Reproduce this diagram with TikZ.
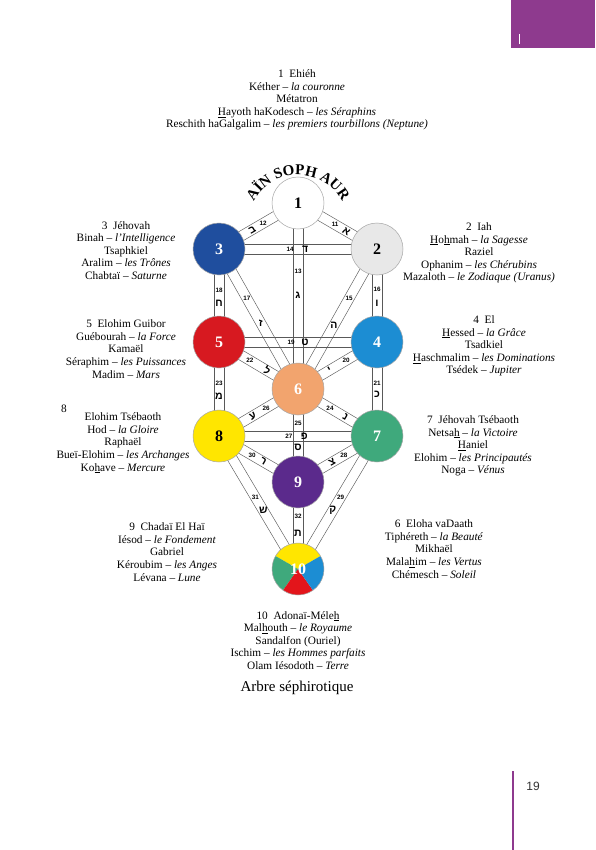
\documentclass[tikz,border=0pt]{standalone}
\usepackage{fontspec}
\setmainfont{Liberation Serif}
\newfontfamily\hebfont{Liberation Sans}
\newfontfamily\numfont{Liberation Sans}
\usetikzlibrary{calc,decorations.text}
\definecolor{cthree}{HTML}{1F4E9E}
\definecolor{cfive}{HTML}{D71920}
\definecolor{cfour}{HTML}{1C8DD3}
\definecolor{csix}{HTML}{F2A46E}
\definecolor{ceight}{HTML}{FFE600}
\definecolor{cseven}{HTML}{3FA97C}
\definecolor{cnine}{HTML}{5B2A8C}
\definecolor{ctwo}{HTML}{E8E8E8}
\definecolor{cred}{HTML}{E3151B}
\definecolor{tabpurple}{HTML}{8E3A8E}
\newcommand\ulh[1]{\underline{#1}}
\newcommand\ainfont{\bfseries\fontsize{15}{15}\selectfont}
\newcommand\chan[2]{%
  \draw[chanline] ($(#1)!5pt!90:(#2)$) -- ($(#2)!5pt!-90:(#1)$);
  \draw[chanline] ($(#1)!5pt!-90:(#2)$) -- ($(#2)!5pt!90:(#1)$);}
\tikzset{
  sef/.style={circle, minimum size=52pt, inner sep=0pt, draw=gray!70, line width=0.5pt,
    font=\bfseries\fontsize{16}{16}\selectfont},
  chanline/.style={draw=gray!70!black, line width=0.45pt},
  pnum/.style={font=\numfont\bfseries\fontsize{6.3}{6.3}\selectfont, inner sep=0pt},
  pheb/.style={font=\hebfont\bfseries\fontsize{10.5}{10.5}\selectfont, inner sep=0pt},
  txt/.style={align=center, font=\fontsize{11.3}{12.6}\selectfont, inner sep=0pt},
}
\begin{document}
\begin{tikzpicture}[x=1pt,y=-1pt]
\useasboundingbox (0,0) rectangle (595,850);
\fill[white] (0,0) rectangle (595,850);
% page decorations
\fill[tabpurple] (511,0) rectangle (595,48);
\draw[white, line width=1pt] (519,34) -- (519,44);
\draw[tabpurple, line width=2pt] (513,771) -- (513,850);
\node[font=\numfont\fontsize{12}{12}\selectfont, text=black!80] (pg) at (533,786) {19};
% sephiroth centres
\coordinate (p1) at (298,203);
\coordinate (p3) at (219,249);
\coordinate (p2) at (377,249);
\coordinate (p5) at (219,342);
\coordinate (p4) at (377,342);
\coordinate (p6) at (298,389);
\coordinate (p8) at (219,436);
\coordinate (p7) at (377,436);
\coordinate (p9) at (298,482);
\coordinate (p10) at (298,569);
% channels
\chan{p1}{p2}\chan{p1}{p3}\chan{p1}{p6}\chan{p3}{p2}\chan{p2}{p6}\chan{p2}{p4}
\chan{p3}{p6}\chan{p3}{p5}\chan{p5}{p4}\chan{p4}{p6}\chan{p4}{p7}\chan{p5}{p6}
\chan{p5}{p8}\chan{p6}{p7}\chan{p6}{p9}\chan{p6}{p8}\chan{p8}{p7}\chan{p7}{p9}
\chan{p7}{p10}\chan{p8}{p9}\chan{p8}{p10}\chan{p9}{p10}
% path labels
\path (p1) -- (p2) node[pnum,pos=0.47] (n11) {11} node[pheb,pos=0.61,sloped] (h11) {א};
\path (p1) -- (p3) node[pnum,pos=0.44] (n12) {12} node[pheb,pos=0.58,sloped] (h12) {ב};
\path (p1) -- (p6) node[pnum,pos=0.365] (n13) {13} node[pheb,pos=0.495] (h13) {ג};
\path (p3) -- (p2) node[pnum,pos=0.45] (n14) {14} node[pheb,pos=0.545] (h14) {ד};
\path (p2) -- (p6) node[pnum,pos=0.354] (n15) {15} node[pheb,pos=0.544] (h15) {ה};
\path (p2) -- (p4) node[pnum,pos=0.43] (n16) {16} node[pheb,pos=0.58] (h16) {ו};
\path (p3) -- (p6) node[pnum,pos=0.354] (n17) {17} node[pheb,pos=0.53] (h17) {ז};
\path (p3) -- (p5) node[pnum,pos=0.44] (n18) {18} node[pheb,pos=0.58] (h18) {ח};
\path (p5) -- (p4) node[pnum,pos=0.456] (n19) {19} node[pheb,pos=0.544] (h19) {ט};
\path (p4) -- (p6) node[pnum,pos=0.39] (n20) {20} node[pheb,pos=0.6,sloped] (h20) {י};
\path (p4) -- (p7) node[pnum,pos=0.44] (n21) {21} node[pheb,pos=0.56] (h21) {כ};
\path (p5) -- (p6) node[pnum,pos=0.39] (n22) {22} node[pheb,pos=0.61,sloped] (h22) {ל};
\path (p5) -- (p8) node[pnum,pos=0.44] (n23) {23} node[pheb,pos=0.58] (h23) {מ};
\path (p6) -- (p7) node[pnum,pos=0.405] (n24) {24} node[pheb,pos=0.6,sloped] (h24) {נ};
\path (p6) -- (p9) node[pnum,pos=0.37] (n25) {25} node[pheb,pos=0.63] (h25) {ס};
\path (p6) -- (p8) node[pnum,pos=0.405] (n26) {26} node[pheb,pos=0.57,sloped] (h26) {ע};
\path (p8) -- (p7) node[pnum,pos=0.443] (n27) {27} node[pheb,pos=0.54] (h27) {פ};
\path (p7) -- (p9) node[pnum,pos=0.42] (n28) {28} node[pheb,pos=0.57,sloped] (h28) {צ};
\path (p7) -- (p10) node[pnum,pos=0.46] (n29) {29} node[pheb,pos=0.56] (h29) {ק};
\path (p8) -- (p9) node[pnum,pos=0.42] (n30) {30} node[pheb,pos=0.56,sloped] (h30) {ר};
\path (p8) -- (p10) node[pnum,pos=0.46] (n31) {31} node[pheb,pos=0.56] (h31) {ש};
\path (p9) -- (p10) node[pnum,pos=0.4] (n32) {32} node[pheb,pos=0.59] (h32) {ת};
% sephiroth
\node[sef, fill=white] (s1) at (p1) {1};
\node[sef, fill=ctwo] (s2) at (p2) {2};
\node[sef, fill=cthree, text=white] (s3) at (p3) {3};
\node[sef, fill=cfive, text=white] (s5) at (p5) {5};
\node[sef, fill=cfour, text=white] (s4) at (p4) {4};
\node[sef, fill=csix, text=white] (s6) at (p6) {6};
\node[sef, fill=ceight] (s8) at (p8) {8};
\node[sef, fill=cseven, text=white] (s7) at (p7) {7};
\node[sef, fill=cnine, text=white] (s9) at (p9) {9};
\fill[ceight] (p10) -- ++(-30:26) arc[start angle=-30, end angle=-150, radius=26] -- cycle;
\fill[cseven] (p10) -- ++(-150:26) arc[start angle=-150, end angle=-235, radius=26] -- cycle;
\fill[cred] (p10) -- ++(-235:26) arc[start angle=-235, end angle=-305, radius=26] -- cycle;
\fill[cfour] (p10) -- ++(-305:26) arc[start angle=-305, end angle=-390, radius=26] -- cycle;
\node[sef, text=white] (s10) at (p10) {10};
% Ain Soph Aur
\path[decorate, decoration={text along path, text={|\ainfont|AÏN SOPH AUR}, text align=center}]
  ($(p1)+(0,22)$) ++(-155:50) arc[start angle=-155, end angle=-25, radius=50];
% texts
\node[txt] (t1) at (297,100) {1\ \ Ehiéh\\Kéther – \textit{la couronne}\\Métatron\\\ulh{H}ayoth haKodesch – \textit{les Séraphins}\\Reschith haGalgalim – \textit{les premiers tourbillons (Neptune)}};
\node[txt] (t3) at (126,250.5) {3\ \ Jéhovah\\Binah – \textit{l’Intelligence}\\Tsaphkiel\\Aralim – \textit{les Trônes}\\Chabtaï – \textit{Saturne}};
\node[txt] (t2) at (479,253) {2\ \ Iah\\\ulh{H}o\ulh{h}mah – \textit{la Sagesse}\\Raziel\\Ophanim – \textit{les Chérubins}\\Mazaloth – \textit{le Zodiaque (Uranus)}};
\node[txt] (t5) at (126,349) {5\ \ Elohim Guibor\\Guébourah – \textit{la Force}\\Kamaël\\Séraphim – \textit{les Puissances}\\Madim – \textit{Mars}};
\node[txt] (t4) at (484,346) {4\ \ El\\\ulh{H}essed – \textit{la Grâce}\\Tsadkiel\\\ulh{H}aschmalim – \textit{les Dominations}\\Tsédek – \textit{Jupiter}};
\node[txt] (t8n) at (64,409) {8};
\node[txt] (t8) at (123,443) {Elohim Tsébaoth\\Hod – \textit{la Gloire}\\Raphaël\\Bueï-Elohim – \textit{les Archanges}\\Ko\ulh{h}ave – \textit{Mercure}};
\node[txt] (t7) at (473,446) {7\ \ Jéhovah Tsébaoth\\Netsa\ulh{h} – \textit{la Victoire}\\\ulh{H}aniel\\Elohim – \textit{les Principautés}\\Noga – \textit{Vénus}};
\node[txt] (t9) at (167,552) {9\ \ Chadaï El Haï\\Iésod – \textit{le Fondement}\\Gabriel\\Kéroubim – \textit{les Anges}\\Lévana – \textit{Lune}};
\node[txt] (t6) at (434,549) {6\ \ Eloha vaDaath\\Tiphéreth – \textit{la Beauté}\\Mikhaël\\Mala\ulh{h}im – \textit{les Vertus}\\Chémesch – \textit{Soleil}};
\node[txt] (t10) at (298,640.5) {10\ \ Adonaï-Méle\ulh{h}\\Mal\ulh{h}outh – \textit{le Royaume}\\Sandalfon (Ouriel)\\Ischim – \textit{les Hommes parfaits}\\Olam Iésodoth – \textit{Terre}};
\node[font=\fontsize{15}{15}\selectfont, inner sep=0pt] (title) at (297,688) {Arbre séphirotique};
\end{tikzpicture}
\end{document}
